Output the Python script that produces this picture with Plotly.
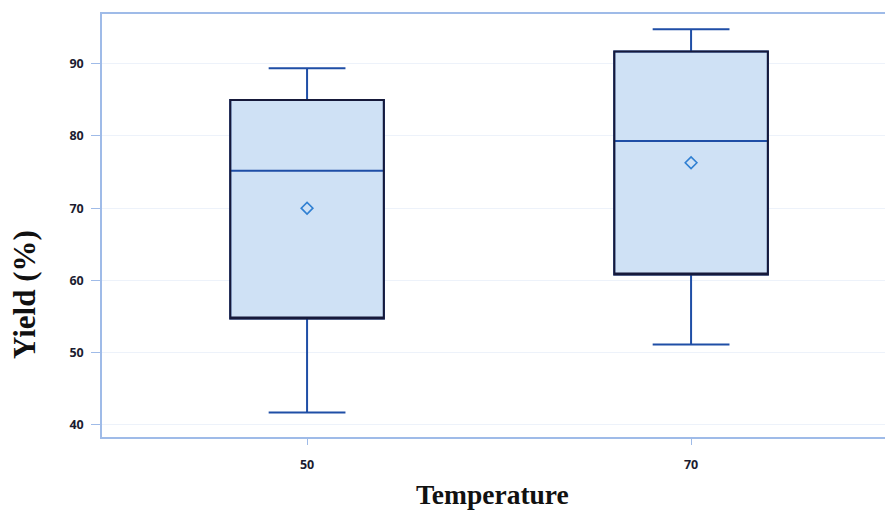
import plotly.graph_objects as go

categories = ["50", "70"]
lower_whisker = [41.7, 51.1]
q1_values = [54.7, 60.8]
median_values = [75.2, 79.3]
q3_values = [85.0, 91.7]
upper_whisker = [89.4, 94.8]
mean_values = [70.0, 76.3]
y_ticks = [40, 50, 60, 70, 80, 90]

fig = go.Figure()

# whiskers, median and fill
fig.add_trace(go.Box(
    x=categories, q1=q1_values, median=median_values, q3=q3_values,
    lowerfence=lower_whisker, upperfence=upper_whisker,
    width=0.4, whiskerwidth=0.5,
    fillcolor="#cfe1f5", line=dict(color="#1f4ea6", width=2),
    boxpoints=False, hoverinfo="skip", showlegend=False,
))
# dark box outline on top
fig.add_trace(go.Box(
    x=categories, q1=q1_values, median=q1_values, q3=q3_values,
    lowerfence=q1_values, upperfence=q3_values,
    width=0.4, whiskerwidth=0,
    fillcolor="rgba(0,0,0,0)", line=dict(color="#16193a", width=2),
    boxpoints=False, hoverinfo="skip", showlegend=False,
))
# mean markers
fig.add_trace(go.Scatter(
    x=categories, y=mean_values, mode="markers",
    marker=dict(symbol="diamond-open", size=9, color="#2f7fd2", line=dict(width=1.6, color="#2f7fd2")),
    hoverinfo="skip", showlegend=False,
))

axis_line = "#9fbbe8"
tick_font = dict(family="Open Sans", size=12.5, color="#1c1c30", weight="bold")
fig.update_layout(
    width=885, height=510,
    margin=dict(l=102, r=0, t=14, b=73),
    paper_bgcolor="white", plot_bgcolor="white",
    boxmode="overlay",
    xaxis=dict(
        type="category", range=[-0.534, 1.505],
        showline=True, linecolor=axis_line, linewidth=1.5, mirror=True,
        ticks="outside", ticklen=6, tickcolor=axis_line, tickwidth=1,
        ticklabelstandoff=9,
        showgrid=False, zeroline=False, tickfont=tick_font,
    ),
    yaxis=dict(
        range=[38.3, 96.9], tickvals=y_ticks,
        showline=True, linecolor=axis_line, linewidth=1.5, mirror=False,
        ticks="outside", ticklen=9, tickcolor=axis_line, tickwidth=1,
        ticklabelstandoff=5,
        showgrid=True, gridcolor="#edf2fa", gridwidth=1, zeroline=False,
        tickfont=tick_font,
    ),
)

# axis titles placed at pixel positions, converted to paper coordinates
pw = 885 - 102 - 0
ph = 510 - 14 - 73

def px_to_paper(px, py_from_top):
    return (px - 102) / pw, (510 - py_from_top - 73) / ph

tx, ty = px_to_paper(492, 494)
yx, yy = px_to_paper(24, 295)
fig.add_annotation(text="Temperature", x=tx, y=ty, xref="paper", yref="paper",
                   xanchor="center", yanchor="middle", showarrow=False,
                   font=dict(family="Liberation Serif", size=27.5, color="#111111", weight="bold"))
fig.add_annotation(text="Yield (%)", x=yx, y=yy, xref="paper", yref="paper",
                   xanchor="center", yanchor="middle", showarrow=False, textangle=-90,
                   font=dict(family="Liberation Serif", size=31, color="#111111", weight="bold"))

fig.write_html("out.html")
